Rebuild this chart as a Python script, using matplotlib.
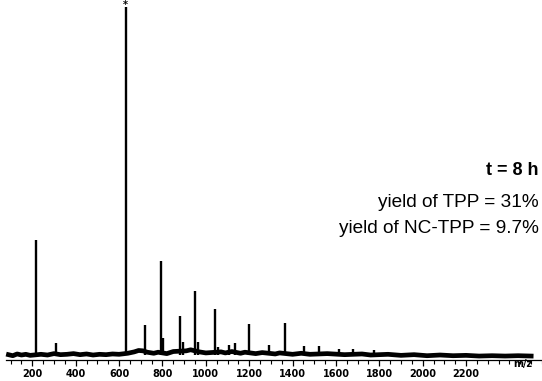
import numpy as np
import matplotlib.pyplot as plt
from matplotlib.ticker import MultipleLocator

# Stick peaks of the MALDI spectrum (m/z, relative intensity %)
peak_mz = [217, 309, 630, 720, 792, 803, 880, 896, 950, 965, 1042, 1057,
           1108, 1135, 1200, 1292, 1364, 1453, 1522, 1614, 1679, 1776]
peak_int = [33.0, 3.4, 100.0, 8.6, 27.0, 4.9, 11.2, 3.7, 18.4, 3.7, 13.2, 2.3,
            2.9, 3.4, 8.9, 2.9, 9.2, 2.6, 2.6, 1.7, 1.7, 1.4]

# Baseline level of the trace between peaks (noisy, read point by point)
base_mz = [90, 110, 130, 150, 170, 190, 240, 270, 300, 330, 360, 390, 420,
           450, 480, 510, 540, 570, 600, 640, 670, 690, 710, 730, 760, 780,
           820, 850, 910, 930, 970, 1000, 1070, 1090, 1120, 1160, 1180, 1230,
           1260, 1320, 1340, 1400, 1440, 1480, 1560, 1640, 1720, 1760, 1840,
           1900, 1960, 2020, 2080, 2140, 2200, 2260, 2320, 2380, 2440, 2500]
base_lvl = [0.1, -0.2, 0.3, 0.0, 0.2, -0.1, 0.2, 0.0, 0.4, 0.1, 0.2, 0.4,
            0.1, 0.3, 0.0, 0.2, 0.1, 0.3, 0.2, 0.5, 0.9, 1.3, 1.2, 0.8,
            0.5, 0.8, 0.4, 1.0, 1.2, 1.5, 0.9, 0.6, 0.9, 0.6, 1.0, 0.5,
            0.8, 0.4, 0.7, 0.3, 0.6, 0.2, 0.5, 0.2, 0.4, 0.1, 0.3, 0.0,
            0.2, -0.1, 0.1, -0.2, 0.0, -0.2, -0.1, -0.3, -0.2, -0.3, -0.2, -0.3]

xticks = [200, 400, 600, 800, 1000, 1200, 1400, 1600, 1800, 2000, 2200]

fig = plt.figure(figsize=(5.42, 3.81), dpi=100)
ax = fig.add_axes([0.0, 21.5 / 381, 1.0, 1 - 21.5 / 381])

ax.plot(base_mz, base_lvl, color="black", lw=3.4, solid_joinstyle="round")
ax.vlines(peak_mz, 0, peak_int, color="black", lw=1.7)
ax.text(peak_mz[2], 102.0, "*", ha="center", va="top",
        fontsize=7, fontweight="bold")

ax.set_xlim(51, 2550)
ax.set_ylim(-1.29, 102.0)
for side in ["top", "right", "left"]:
    ax.spines[side].set_visible(False)
ax.spines["bottom"].set_bounds(80, 2550)
ax.spines["bottom"].set_linewidth(0.9)
ax.set_yticks([])
ax.set_xticks(xticks)
ax.set_xticklabels([str(t) for t in xticks], fontsize=7, fontweight="bold")
ax.xaxis.set_minor_locator(MultipleLocator(50))
ax.tick_params(axis="x", which="major", length=4, width=0.9, pad=3)
ax.tick_params(axis="x", which="minor", length=3, width=0.8)
ax.text(2460, -1.29, "m/z", transform=ax.transData, ha="center", va="top",
        fontsize=7, fontweight="bold")

fig.text(538 / 542, 1 - 175 / 381, "t = 8 h", ha="right", va="baseline",
         fontsize=13, fontweight="bold", family="Liberation Sans")
fig.text(539 / 542, 1 - 207 / 381, "yield of TPP = 31%", ha="right",
         va="baseline", fontsize=13.7, family="Liberation Sans")
fig.text(539 / 542, 1 - 233 / 381, "yield of NC-TPP = 9.7%", ha="right",
         va="baseline", fontsize=13.7, family="Liberation Sans")

fig.savefig("out.png", dpi=100)
